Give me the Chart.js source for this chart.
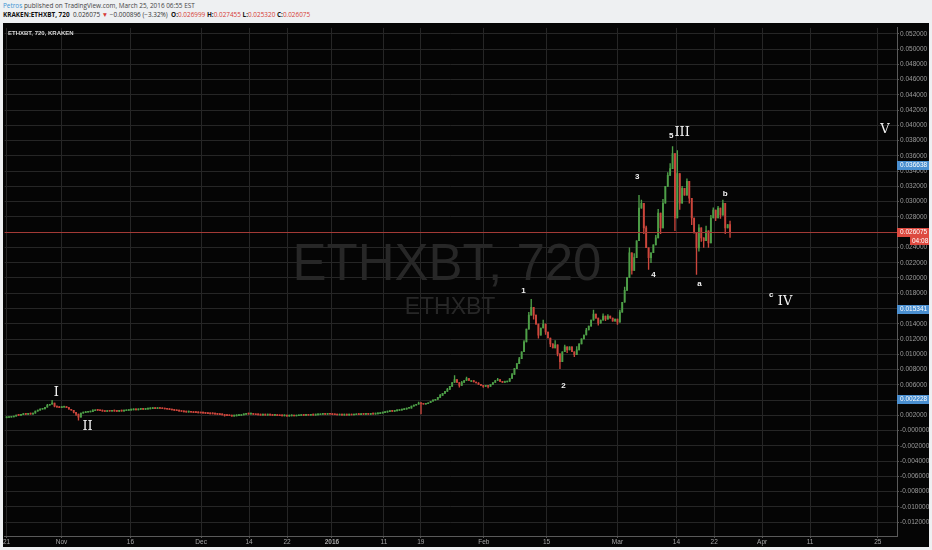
<!DOCTYPE html>
<html>
<head>
<meta charset="utf-8">
<script src="https://cdn.jsdelivr.net/npm/chart.js@4.4.1/dist/chart.umd.min.js"></script>
<style>
  html, body { margin: 0; padding: 0; background: #eef0f2; width: 932px; height: 550px; overflow: hidden; }
  #hdr { position: absolute; left: 3px; top: 0; font-family: "Open Sans", "Liberation Sans", sans-serif; color: #444; }
  #hdr .l1 { position: absolute; top: 1px; white-space: nowrap; font-size: 6.4px; line-height: 10px; }
  #hdr .l2 { position: absolute; top: 10px; white-space: nowrap; font-size: 6.4px; line-height: 10px; color: #333; }
  #hdr b { color: #111; }
  .blue { color: #3a94d4; }
  .red { color: #d63b35; }
  #wrap { position: absolute; left: 3px; top: 23px; width: 926px; height: 524px; background: #050505; }
</style>
</head>
<body>
<div id="hdr">
  <div class="l1"><span class="blue">Petros</span> published on TradingView.com, March 25, 2016 06:55 EST</div>
  <div class="l2"><b>KRAKEN:ETHXBT, 720</b> &nbsp;0.026075 <span class="red">▼</span> −0.000896 (−3.32%) &nbsp;<b>O:</b><span class="red">0.026999</span> <b>H:</b><span class="red">0.027455</span> <b>L:</b><span class="red">0.025320</span> <b>C:</b><span class="red">0.026075</span></div>
</div>
<div id="wrap"><canvas id="priceChart" width="926" height="524"></canvas></div>
<script>
const ctx = document.getElementById('priceChart').getContext('2d');

// 12h candles (bar index 0 = Oct 21 2015), closes
const closes = [
  0.00172, 0.00175, 0.00178, 0.0019, 0.00203, 0.002, 0.0021, 0.00215, 0.00212, 0.00218,
  0.00215, 0.00228, 0.00254, 0.00267, 0.0028, 0.00285, 0.00306, 0.00332, 0.00345, 0.0036,
  0.0032, 0.00306, 0.003, 0.00306, 0.00308, 0.003, 0.0028, 0.00267, 0.0024, 0.00215,
  0.00177, 0.00228, 0.00235, 0.0024, 0.00243, 0.00248, 0.0026, 0.00267, 0.00265, 0.0026,
  0.00255, 0.0025, 0.00256, 0.00253, 0.00258, 0.00255, 0.00252, 0.00258, 0.00255, 0.0026,
  0.00263, 0.00268, 0.00272, 0.00275, 0.00272, 0.00278, 0.0028, 0.00277, 0.00282, 0.00285,
  0.00288, 0.0029, 0.00288, 0.00292, 0.0029, 0.00286, 0.00283, 0.0028, 0.00275, 0.0027,
  0.00265, 0.0026, 0.00255, 0.0025, 0.00245, 0.00242, 0.00244, 0.0024, 0.00236, 0.00235,
  0.00232, 0.0023, 0.00228, 0.00226, 0.00223, 0.0022, 0.00218, 0.00216, 0.00213, 0.0021,
  0.00205, 0.002, 0.00196, 0.00194, 0.0019, 0.00192, 0.00195, 0.00198, 0.00205, 0.00212,
  0.00218, 0.00215, 0.00218, 0.00212, 0.00208, 0.00205, 0.00203, 0.00206, 0.00202, 0.00205,
  0.00203, 0.002, 0.00202, 0.00196, 0.00194, 0.00192, 0.00195, 0.0019, 0.00192, 0.00196,
  0.00191, 0.00194, 0.00198, 0.00202, 0.002, 0.00204, 0.00201, 0.00205, 0.00203, 0.00206,
  0.00208, 0.00212, 0.00215, 0.00213, 0.00216, 0.00214, 0.0021, 0.00207, 0.00204, 0.00206,
  0.00202, 0.00205, 0.00203, 0.00206, 0.00204, 0.00208, 0.00212, 0.0021, 0.00214, 0.00212,
  0.00215, 0.00213, 0.00217, 0.00215, 0.00219, 0.00222, 0.00228, 0.00235, 0.00242, 0.00248,
  0.00255, 0.00252, 0.00258, 0.00263, 0.00268, 0.00275, 0.00282, 0.00293, 0.00295, 0.0032,
  0.00332, 0.00345, 0.0036, 0.00355, 0.00345, 0.00352, 0.00365, 0.00384, 0.00397, 0.0041,
  0.00436, 0.00462, 0.00488, 0.00514, 0.0054, 0.00579, 0.0063, 0.0067, 0.0063, 0.00592,
  0.0063, 0.00657, 0.00683, 0.00657, 0.00657, 0.00637, 0.00624, 0.00605, 0.00592, 0.00579,
  0.00585, 0.00579, 0.00605, 0.0063, 0.00657, 0.0067, 0.00644, 0.0063, 0.00637, 0.00644,
  0.00683, 0.00735, 0.00813, 0.00878, 0.00942, 0.01033, 0.01162, 0.0133, 0.01514, 0.01617,
  0.01514, 0.01396, 0.0125, 0.01344, 0.01396, 0.01292, 0.01214, 0.01136, 0.01085, 0.01123,
  0.01007, 0.00904, 0.01033, 0.01097, 0.01058, 0.01097, 0.01033, 0.00994, 0.01058, 0.01136,
  0.01201, 0.01253, 0.01318, 0.0137, 0.01448, 0.01527, 0.01474, 0.01409, 0.01448, 0.015,
  0.01461, 0.015, 0.01474, 0.01435, 0.01461, 0.01422, 0.01552, 0.01682, 0.01838, 0.02007,
  0.02331, 0.02098, 0.02267, 0.02488, 0.02915, 0.0298, 0.02656, 0.02396, 0.02267, 0.02331,
  0.02435, 0.02526, 0.0285, 0.02656, 0.0298, 0.03201, 0.03344, 0.03434, 0.0363, 0.02786,
  0.0337, 0.0298, 0.03175, 0.03084, 0.03266, 0.03045, 0.02786, 0.02591, 0.02395, 0.02656,
  0.02526, 0.02488, 0.02617, 0.02461, 0.02786, 0.02889, 0.02786, 0.02915, 0.02825, 0.0298,
  0.02656, 0.026999, 0.026075
];
const firstOpen = 0.0017;

// visible wicks [bar index, price]
const highWicks = [[14,0.0029],[17,0.00345],[19,0.00397],[24,0.0032],[26,0.00305],[36,0.00275],[54,0.00285],[57,0.0029],[62,0.00298],
  [99,0.0022],[131,0.0022],[172,0.00375],[178,0.00405],[181,0.00475],[184,0.00555],[187,0.00722],[190,0.00645],[192,0.007],[197,0.0063],
  [205,0.00685],[208,0.0065],[211,0.0075],[214,0.0096],[216,0.0118],[218,0.0155],[219,0.01721],[221,0.0148],[224,0.01447],[229,0.0118],
  [233,0.0112],[238,0.011],[242,0.0134],[245,0.01578],[249,0.0153],[251,0.0152],[256,0.0158],[258,0.0188],[260,0.02395],[262,0.0232],
  [264,0.03083],[265,0.0302],[267,0.0268],[271,0.0256],[272,0.029],[274,0.0303],[276,0.0338],[277,0.035],[278,0.03721],[280,0.03669],
  [282,0.032],[284,0.033],[287,0.0275],[289,0.027],[292,0.0268],[294,0.0282],[295,0.0292],[297,0.0294],[299,0.0302],[302,0.027455]];
const lowWicks = [[0,0.00165],[20,0.0031],[28,0.0023],[29,0.002],[30,0.00138],[91,0.00188],[173,0.0022],[186,0.0061],[189,0.0057],
  [199,0.00565],[201,0.0056],[215,0.0101],[220,0.0146],[222,0.0121],[225,0.0126],[227,0.011],[230,0.0098],[231,0.00813],[234,0.0102],
  [237,0.0097],[240,0.0117],[247,0.0138],[250,0.0144],[255,0.0139],[257,0.0162],[261,0.0205],[263,0.0244],[266,0.0258],[268,0.02111],
  [269,0.022],[273,0.0258],[279,0.0262],[281,0.029],[285,0.0298],[286,0.027],[288,0.02046],[289,0.0235],[290,0.0248],[291,0.024],
  [293,0.024],[296,0.0275],[298,0.0278],[300,0.0258],[302,0.02532]];

// axes
const xTickBars = [0, 22.9, 51.7, 81.2, 101.2, 117.1, 135.8, 157.5, 172.9, 199.2, 225.4, 255, 279.6, 295.4, 315.4, 335.4, 363.7];
const xTickLabels = ['21', 'Nov', '16', 'Dec', '14', '22', '2016', '11', '19', 'Feb', '15', 'Mar', '14', '22', 'Apr', '11', '25'];
const yTickLabels = ['0.052000', '0.050000', '0.048000', '0.046000', '0.044000', '0.042000', '0.040000', '0.038000', '0.036000',
  '0.034000', '0.032000', '0.030000', '0.028000', '0.026000', '0.024000', '0.022000', '0.020000', '0.018000', '0.016000',
  '0.014000', '0.012000', '0.010000', '0.008000', '0.006000', '0.004000', '0.002000', '-0.000000', '-0.002000', '-0.004000',
  '-0.006000', '-0.008000', '-0.010000', '-0.012000'];

// Elliott wave marks
const waveTexts = ['I', 'II', '1', '2', '3', '4', '5', 'III', 'a', 'b', 'c', 'IV', 'V'];
const waveBars = [20.8, 33.8, 215.8, 232.5, 263.3, 270, 277.5, 282, 289.2, 300, 319.2, 325, 366.7];
const wavePrices = [0.00501, 0.00047, 0.01838, 0.00592, 0.03331, 0.02046, 0.03862, 0.03902, 0.01929, 0.0311, 0.01786, 0.01695, 0.03941];

// price scale marks
const markTexts = ['0.036638', '0.015341', '0.002228'];
const markPrices = [0.03487, 0.01592, 0.00417];
const lastPrice = 0.026075;
const countdown = '04:08';

const opens = closes.map((c, i) => i === 0 ? firstOpen : closes[i - 1]);
const highs = closes.map((c, i) => Math.max(opens[i], c));
const lows = closes.map((c, i) => Math.min(opens[i], c));
highWicks.forEach(([i, v]) => { highs[i] = Math.max(highs[i], v); });
lowWicks.forEach(([i, v]) => { lows[i] = Math.min(lows[i], v); });

const upColor = '#4e9f48';
const downColor = '#cc463c';
const candleColor = c => closes[c.dataIndex] >= opens[c.dataIndex] ? upColor : downColor;

const overlay = {
    id: 'overlay',
    beforeDatasetsDraw(chart) {
        const c = chart.ctx;
        c.save();
        c.fillStyle = '#272727';
        c.textAlign = 'center';
        c.textBaseline = 'middle';
        c.font = '51px "Liberation Sans", Arial, sans-serif';
        c.fillText('ETHXBT, 720', 444, 243);
        c.font = '23px "Liberation Sans", Arial, sans-serif';
        c.fillText('ETHXBT', 447, 285);
        c.restore();
    },
    afterDatasetsDraw(chart) {
        const c = chart.ctx;
        const a = chart.chartArea;
        const x = chart.scales.x, y = chart.scales.y;
        c.save();
        // last price line
        const ly = Math.round(y.getPixelForValue(lastPrice)) + 0.5;
        c.strokeStyle = '#a33a36';
        c.lineWidth = 1;
        c.beginPath();
        c.moveTo(a.left, ly);
        c.lineTo(a.right, ly);
        c.stroke();
        // wave labels
        c.fillStyle = '#f2f2f2';
        c.textAlign = 'center';
        c.textBaseline = 'middle';
        waveTexts.forEach((t, i) => {
            const roman = /^[IV]+$/.test(t);
            c.font = roman ? '13px "DejaVu Serif", serif' : 'bold 8px "Liberation Sans", sans-serif';
            c.fillText(t, x.getPixelForValue(waveBars[i]), y.getPixelForValue(wavePrices[i]));
        });
        // legend
        c.textAlign = 'left';
        c.font = 'bold 6px "Liberation Sans", sans-serif';
        c.fillStyle = '#d8d8d8';
        c.fillText('ETHXBT, 720, KRAKEN', 5, 10);
        c.restore();
    },
    afterDraw(chart) {
        const c = chart.ctx;
        const a = chart.chartArea;
        const y = chart.scales.y;
        c.save();
        c.font = '6.5px "Liberation Sans", sans-serif';
        c.textBaseline = 'middle';
        c.textAlign = 'left';
        markTexts.forEach((t, i) => {
            const py = Math.round(y.getPixelForValue(markPrices[i]));
            c.fillStyle = '#4a8fd0';
            c.fillRect(a.right, py - 4, 32, 9);
            c.fillStyle = '#ffffff';
            c.fillText(t, a.right + 3, py + 0.5);
        });
        const py = Math.round(y.getPixelForValue(lastPrice));
        c.fillStyle = '#dd4a40';
        c.fillRect(a.right, py - 4, 32, 9);
        c.fillRect(a.right + 13, py + 5, 19, 8);
        c.fillStyle = '#ffffff';
        c.fillText(lastPrice.toFixed(6), a.right + 3, py + 0.5);
        c.fillText(countdown, a.right + 15, py + 9);
        c.restore();
    }
};

const chart = new Chart(ctx, {
    type: 'bar',
    data: {
        datasets: [{
            label: 'wick',
            data: closes.map((v, i) => ({ x: i, y: [lows[i], highs[i]] })),
            backgroundColor: candleColor,
            barThickness: 0.7,
            minBarLength: 1,
            grouped: false
        }, {
            label: 'body',
            data: closes.map((v, i) => ({ x: i, y: [Math.min(opens[i], v), Math.max(opens[i], v)] })),
            backgroundColor: candleColor,
            barThickness: 1.2,
            minBarLength: 1,
            grouped: false
        }]
    },
    options: {
        responsive: false,
        animation: false,
        layout: { padding: 0 },
        plugins: { legend: { display: false }, tooltip: { enabled: false } },
        scales: {
            x: {
                type: 'linear',
                offset: false,
                min: -0.83,
                max: 371.7,
                grid: { color: '#262626', tickLength: 2, tickColor: '#555', offset: false },
                border: { color: '#5a5a5a' },
                afterBuildTicks: s => { s.ticks = xTickBars.map(v => ({ value: v })); },
                afterFit: s => { s.height = 11; },
                ticks: {
                    autoSkip: false,
                    maxRotation: 0,
                    padding: 0,
                    color: '#a6a6a6',
                    font: c => ({ family: '"Liberation Sans", sans-serif', size: 6.5, weight: xTickLabels[c.index] === '2016' ? 'bold' : 'normal' }),
                    callback: (v, i) => xTickLabels[i]
                }
            },
            y: {
                position: 'right',
                min: -0.013817,
                max: 0.052779,
                grid: { color: '#262626', tickLength: 2, tickColor: '#555' },
                border: { color: '#5a5a5a' },
                afterBuildTicks: s => { s.ticks = yTickLabels.map(t => ({ value: parseFloat(t) })); },
                afterFit: s => { s.width = 32; },
                ticks: {
                    padding: 1,
                    color: '#9c9c9c',
                    font: { family: '"Liberation Sans", sans-serif', size: 6.5 },
                    callback: (v, i) => yTickLabels[i]
                }
            }
        }
    },
    plugins: [overlay]
});
</script>
</body>
</html>
